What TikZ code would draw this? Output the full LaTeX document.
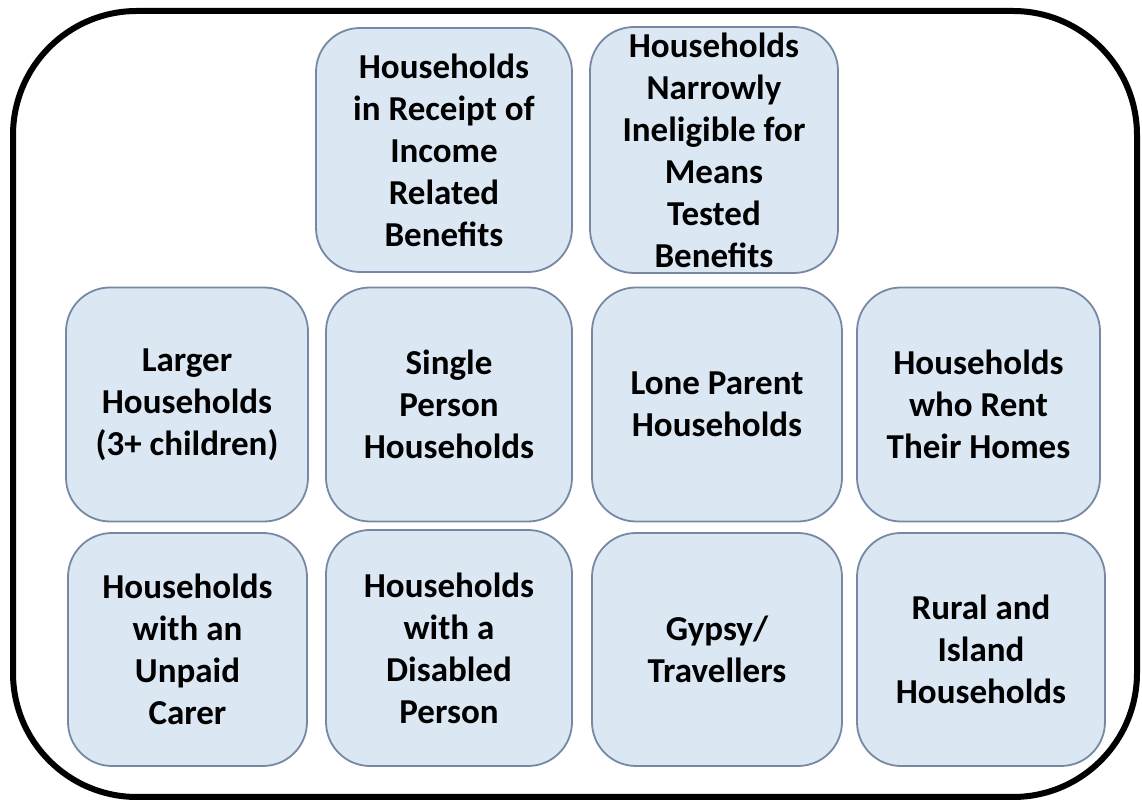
\documentclass[tikz,border=0pt]{standalone}
\usepackage{fontspec}
\setmainfont{Carlito}
\usepackage{tikz}
\usetikzlibrary{positioning}
\definecolor{grpfill}{RGB}{220,231,244}
\definecolor{grpline}{RGB}{118,136,164}

\begin{document}
\begin{tikzpicture}[
      x=0.5pt, y=-0.5pt,
      grp/.style={draw=grpline, fill=grpfill, line width=0.9pt,
        rounded corners=22pt, align=center, inner sep=0pt,
        minimum width=123pt, minimum height=117pt,
        font=\bfseries\fontsize{17.5}{21}\selectfont},
      frame/.style={draw=black, line width=3pt, rounded corners=62pt}
      ]

      \useasboundingbox (0,0) rectangle (1142,801);
      \draw[frame] (13,11) rectangle (1137,797);

      % top row
      \node[grp, minimum width=128pt, minimum height=122pt] (income) at (444,150)
        {Households\\in Receipt of\\Income\\Related\\Benefits};
      \node[grp, minimum width=124pt, minimum height=123pt] (narrow) at (714,150)
        {Households\\Narrowly\\Ineligible for\\Means\\Tested\\Benefits};

      % middle row
      \node[grp, minimum width=121pt] (larger) at (187,404.5)
        {Larger\\Households\\(3+ children)};
      \node[grp] (single) at (449,404.5)
        {Single\\Person\\Households};
      \node[grp, minimum width=125pt] (lone) at (717,404.5)
        {Lone Parent\\Households};
      \node[grp, minimum width=121.5pt] (rent) at (978.5,404.5)
        {Households\\who Rent\\Their Homes};

      % bottom row
      \node[grp, minimum width=119.5pt, minimum height=116.5pt] (carer) at (187.5,649.5)
        {Households\\with an\\Unpaid\\Carer};
      \node[grp, minimum height=118pt] (disabled) at (449,648)
        {Households\\with a\\Disabled\\Person};
      \node[grp, minimum width=125pt, minimum height=116.5pt] (gypsy) at (717,649.5)
        {Gypsy/\\Travellers};
      \node[grp, minimum width=124pt, minimum height=116.5pt] (rural) at (981,649.5)
        {Rural and\\Island\\Households};
    \end{tikzpicture}
\end{document}
